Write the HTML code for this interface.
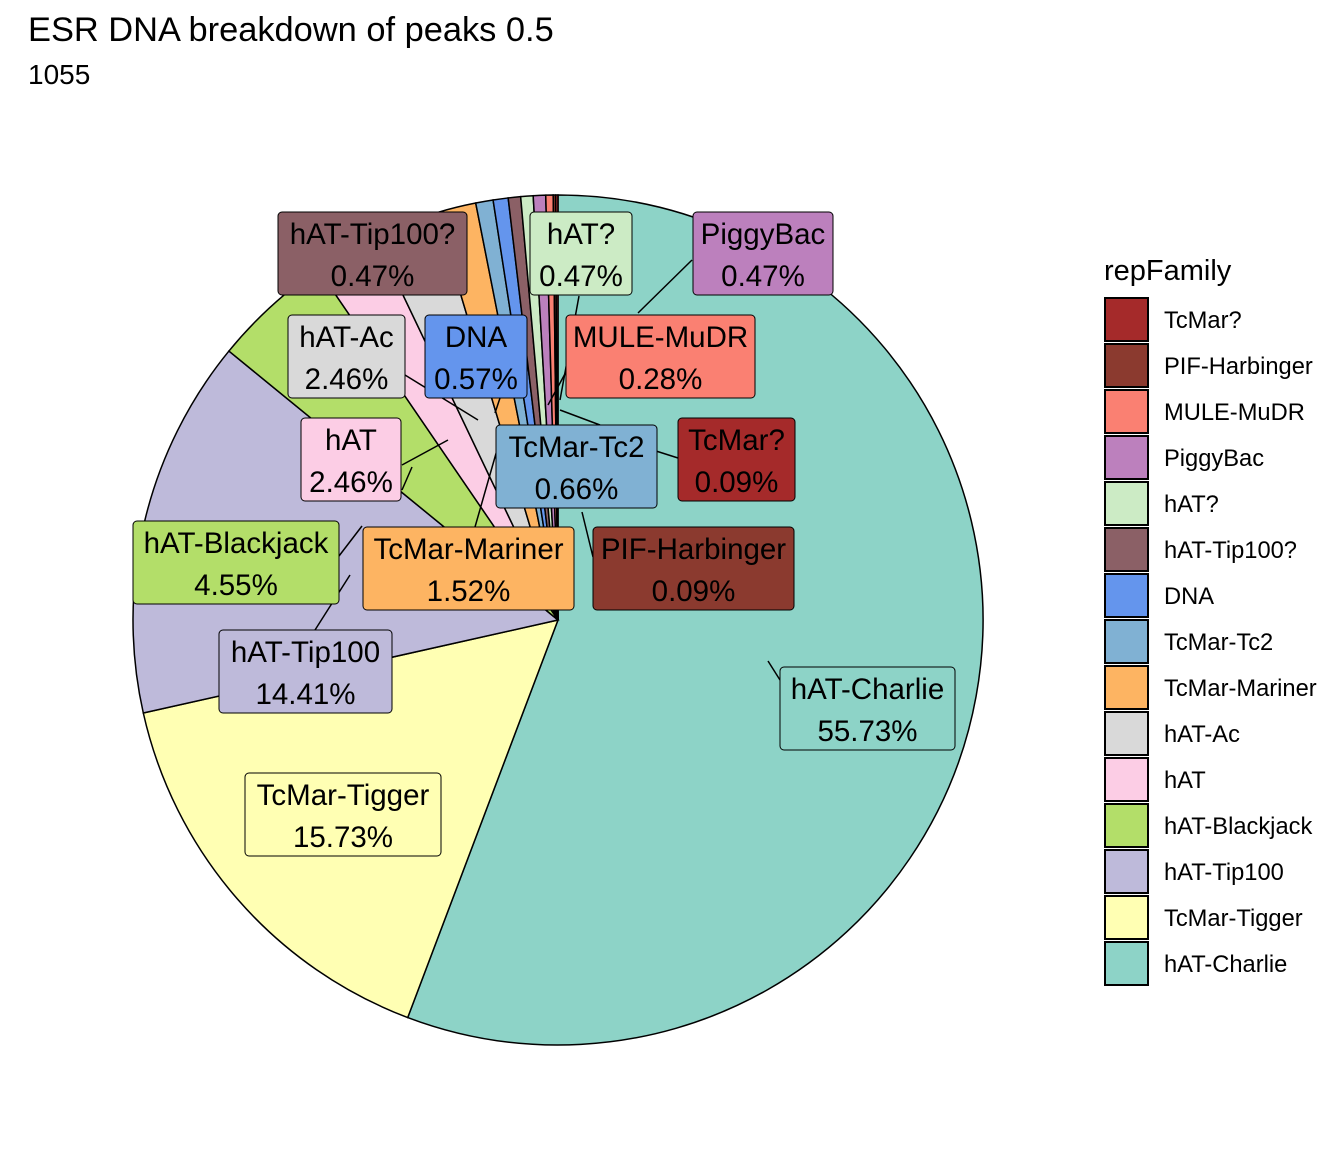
<!DOCTYPE html>
<html><head><meta charset="utf-8"><style>
body{margin:0;background:#fff;}
svg{display:block;font-family:"Liberation Sans",sans-serif;}
</style></head><body>
<svg id="chart" width="1344" height="1152" viewBox="0 0 1344 1152">
<rect width="1344" height="1152" fill="#fff"/>
<text x="28" y="41" font-size="34.4">ESR DNA breakdown of peaks 0.5</text>
<text x="28" y="84" font-size="28">1055</text>
<g id="slices"></g><g id="leaders"></g><g id="labels"></g><g id="legend"></g>
</svg>
<script>
const categories=["hAT-Charlie","TcMar-Tigger","hAT-Tip100","hAT-Blackjack","hAT","hAT-Ac","TcMar-Mariner","TcMar-Tc2","DNA","hAT-Tip100?","hAT?","PiggyBac","MULE-MuDR","PIF-Harbinger","TcMar?"];
const values=[55.73,15.73,14.41,4.55,2.46,2.46,1.52,0.66,0.57,0.47,0.47,0.47,0.28,0.09,0.09];
const valueLabels=["55.73%","15.73%","14.41%","4.55%","2.46%","2.46%","1.52%","0.66%","0.57%","0.47%","0.47%","0.47%","0.28%","0.09%","0.09%"];
const colors=["#8DD3C7","#FFFFB3","#BEBADA","#B3DE69","#FCCDE5","#D9D9D9","#FDB462","#80B1D3","#6495ED","#8B6066","#CCEBC5","#BC80BD","#FA8072","#8B3A2F","#A52A2A"];
const legendOrder=["TcMar?","PIF-Harbinger","MULE-MuDR","PiggyBac","hAT?","hAT-Tip100?","DNA","TcMar-Tc2","TcMar-Mariner","hAT-Ac","hAT","hAT-Blackjack","hAT-Tip100","TcMar-Tigger","hAT-Charlie"];
const boxes={"hAT-Charlie":[780,667,175,83],"TcMar-Tigger":[245,773,196,83],"hAT-Tip100":[219,630,173,83],"hAT-Blackjack":[133,521,206,83],"hAT":[301,418,100,83],"hAT-Ac":[288,315,117,83],"TcMar-Mariner":[363,527,211,83],"TcMar-Tc2":[496,425,161,83],"DNA":[425,315,102,83],"hAT-Tip100?":[278,212,189,83],"hAT?":[530,212,102,83],"PiggyBac":[693,212,140,83],"MULE-MuDR":[566,315,189,83],"PIF-Harbinger":[593,527,201,83],"TcMar?":[678,418,117,83]};
const leaders=[[692,260,638,313],[566,372,548,405],[678,458,656,451],[600,425,560,410],[593,557,582,512],[780,680,768,661],[402,465,448,440],[402,490,412,467],[339,556,362,526],[315,630,350,575],[405,375,478,420],[500,398,495,413],[475,527,497,450],[579,296,560,400]];
const NS="http://www.w3.org/2000/svg";
const cx=558,cy=620,r=425;
const total=values.reduce((a,b)=>a+b,0);
function angle(v){return v/total*2*Math.PI;}
function pt(a){return [cx+r*Math.sin(a),cy-r*Math.cos(a)];}
const sg=document.getElementById('slices');
let acc=0;
values.forEach((v,i)=>{
  const a0=angle(acc),a1=angle(acc+v);acc+=v;
  const p0=pt(a0),p1=pt(a1);
  const large=(a1-a0)>Math.PI?1:0;
  const p=document.createElementNS(NS,'path');
  p.setAttribute('d',`M${cx},${cy}L${p0[0]},${p0[1]}A${r},${r} 0 ${large} 1 ${p1[0]},${p1[1]}Z`);
  p.setAttribute('fill',colors[i]);p.setAttribute('stroke','#000');p.setAttribute('stroke-width','1.5');
  
  
  sg.appendChild(p);
});
const lg=document.getElementById('leaders');
leaders.forEach(l=>{
  const e=document.createElementNS(NS,'line');
  e.setAttribute('x1',l[0]);e.setAttribute('y1',l[1]);e.setAttribute('x2',l[2]);e.setAttribute('y2',l[3]);
  e.setAttribute('stroke','#000');e.setAttribute('stroke-width','1.5');
  
  
  lg.appendChild(e);
});
const lb=document.getElementById('labels');
categories.forEach((c,i)=>{
  const b=boxes[c];if(!b)return;
  const g=document.createElementNS(NS,'g');
  
  
  const rc=document.createElementNS(NS,'rect');
  rc.setAttribute('x',b[0]);rc.setAttribute('y',b[1]);rc.setAttribute('width',b[2]);rc.setAttribute('height',b[3]);
  rc.setAttribute('rx',4);rc.setAttribute('fill',colors[i]);rc.setAttribute('stroke','#000');rc.setAttribute('stroke-width','1');
  g.appendChild(rc);
  [[c,32],[valueLabels[i],74]].forEach(t=>{
    const tx=document.createElementNS(NS,'text');
    tx.setAttribute('x',b[0]+b[2]/2);tx.setAttribute('y',b[1]+t[1]);
    tx.setAttribute('text-anchor','middle');tx.setAttribute('font-size','29.5');
    tx.textContent=t[0];g.appendChild(tx);
  });
  lb.appendChild(g);
});
const leg=document.getElementById('legend');
const tt=document.createElementNS(NS,'text');
tt.setAttribute('x',1104);tt.setAttribute('y',280);tt.setAttribute('font-size','29');tt.textContent='repFamily';


leg.appendChild(tt);
legendOrder.forEach((c,k)=>{
  const i=categories.indexOf(c);const y=298+k*46;
  const g=document.createElementNS(NS,'g');
  
  
  const rc=document.createElementNS(NS,'rect');
  rc.setAttribute('x',1105);rc.setAttribute('y',y);rc.setAttribute('width',43);rc.setAttribute('height',43);
  rc.setAttribute('fill',colors[i]);rc.setAttribute('stroke','#000');rc.setAttribute('stroke-width','2');
  g.appendChild(rc);
  const tx=document.createElementNS(NS,'text');
  tx.setAttribute('x',1164);tx.setAttribute('y',y+30);tx.setAttribute('font-size','23.7');tx.textContent=c;
  g.appendChild(tx);leg.appendChild(g);
});
</script>
</body></html>
